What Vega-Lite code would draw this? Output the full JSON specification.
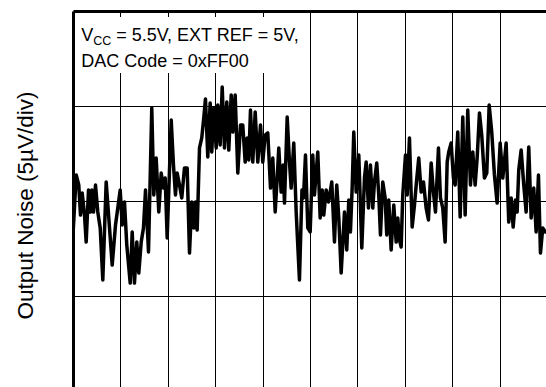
{
  "$schema": "https://vega.github.io/schema/vega-lite/v6.json",
  "width": 473,
  "height": 376,
  "autosize": {"type": "none"},
  "padding": {"left": 73, "top": 11, "right": 0, "bottom": 0},
  "background": "white",
  "config": {"view": {"stroke": null}, "font": "Liberation Sans"},
  "datasets": {
    "noise": [
      {"t":0.0,"v":8.21},{"t":0.068,"v":11.37},{"t":0.122,"v":10.84},{"t":0.158,"v":9.26},{"t":0.194,"v":10.42},{"t":0.243,"v":9.26},{"t":0.278,"v":7.84},{"t":0.327,"v":10.58},{"t":0.363,"v":9.42},{"t":0.397,"v":10.58},{"t":0.432,"v":9.42},{"t":0.475,"v":10.84},{"t":0.523,"v":9.42},{"t":0.574,"v":8.58},{"t":0.629,"v":5.84},{"t":0.700,"v":11.0},{"t":0.755,"v":9.11},{"t":0.827,"v":6.63},{"t":0.897,"v":8.74},{"t":0.945,"v":9.63},{"t":0.996,"v":10.58},{"t":1.038,"v":8.74},{"t":1.086,"v":9.95},{"t":1.135,"v":7.68},{"t":1.207,"v":5.68},{"t":1.249,"v":8.37},{"t":1.297,"v":5.68},{"t":1.346,"v":7.84},{"t":1.388,"v":6.21},{"t":1.439,"v":7.84},{"t":1.487,"v":8.58},{"t":1.530,"v":10.58},{"t":1.593,"v":7.32},{"t":1.662,"v":14.89},{"t":1.705,"v":10.32},{"t":1.755,"v":12.26},{"t":1.810,"v":9.42},{"t":1.861,"v":11.47},{"t":1.909,"v":10.68},{"t":1.945,"v":11.21},{"t":1.987,"v":8.05},{"t":2.072,"v":14.26},{"t":2.120,"v":11.89},{"t":2.162,"v":10.32},{"t":2.198,"v":11.47},{"t":2.247,"v":10.84},{"t":2.295,"v":10.16},{"t":2.352,"v":11.74},{"t":2.409,"v":11.74},{"t":2.458,"v":7.26},{"t":2.506,"v":9.95},{"t":2.549,"v":8.58},{"t":2.584,"v":9.95},{"t":2.620,"v":8.47},{"t":2.669,"v":12.79},{"t":2.717,"v":13.32},{"t":2.759,"v":14.37},{"t":2.795,"v":15.37},{"t":2.844,"v":12.32},{"t":2.894,"v":15.16},{"t":2.928,"v":12.58},{"t":2.970,"v":14.89},{"t":3.021,"v":12.79},{"t":3.055,"v":15.05},{"t":3.105,"v":12.95},{"t":3.148,"v":16.0},{"t":3.196,"v":12.79},{"t":3.245,"v":15.21},{"t":3.287,"v":12.68},{"t":3.338,"v":15.58},{"t":3.371,"v":13.63},{"t":3.422,"v":15.58},{"t":3.477,"v":11.47},{"t":3.534,"v":14.0},{"t":3.582,"v":14.0},{"t":3.633,"v":12.05},{"t":3.675,"v":13.32},{"t":3.709,"v":12.16},{"t":3.745,"v":14.79},{"t":3.793,"v":12.05},{"t":3.844,"v":14.68},{"t":3.899,"v":12.05},{"t":3.956,"v":14.0},{"t":4.004,"v":12.05},{"t":4.055,"v":13.47},{"t":4.110,"v":13.58},{"t":4.167,"v":10.68},{"t":4.215,"v":12.26},{"t":4.266,"v":9.42},{"t":4.308,"v":11.21},{"t":4.342,"v":12.79},{"t":4.392,"v":10.47},{"t":4.435,"v":11.89},{"t":4.462,"v":9.89},{"t":4.519,"v":14.42},{"t":4.568,"v":12.05},{"t":4.603,"v":10.68},{"t":4.658,"v":13.05},{"t":4.709,"v":9.42},{"t":4.778,"v":5.84},{"t":4.831,"v":10.58},{"t":4.863,"v":10.16},{"t":4.905,"v":12.42},{"t":4.954,"v":8.58},{"t":5.004,"v":8.37},{"t":5.059,"v":12.42},{"t":5.095,"v":10.32},{"t":5.165,"v":12.58},{"t":5.215,"v":9.11},{"t":5.257,"v":10.58},{"t":5.291,"v":9.26},{"t":5.342,"v":10.58},{"t":5.390,"v":9.95},{"t":5.426,"v":10.47},{"t":5.460,"v":11.0},{"t":5.517,"v":7.84},{"t":5.565,"v":10.84},{"t":5.608,"v":9.11},{"t":5.658,"v":6.21},{"t":5.728,"v":9.42},{"t":5.776,"v":7.42},{"t":5.819,"v":10.05},{"t":5.854,"v":8.37},{"t":5.890,"v":10.68},{"t":5.924,"v":13.63},{"t":5.975,"v":10.47},{"t":6.030,"v":12.42},{"t":6.093,"v":7.53},{"t":6.150,"v":11.21},{"t":6.186,"v":12.05},{"t":6.234,"v":9.63},{"t":6.276,"v":11.89},{"t":6.325,"v":9.63},{"t":6.361,"v":11.0},{"t":6.409,"v":12.0},{"t":6.451,"v":10.32},{"t":6.487,"v":8.21},{"t":6.536,"v":11.0},{"t":6.586,"v":10.16},{"t":6.620,"v":8.21},{"t":6.662,"v":10.05},{"t":6.713,"v":7.42},{"t":6.768,"v":9.79},{"t":6.819,"v":7.84},{"t":6.852,"v":9.11},{"t":6.888,"v":7.95},{"t":6.924,"v":7.58},{"t":6.958,"v":10.32},{"t":7.015,"v":12.42},{"t":7.051,"v":10.32},{"t":7.099,"v":13.32},{"t":7.156,"v":8.63},{"t":7.205,"v":9.79},{"t":7.247,"v":11.0},{"t":7.295,"v":12.26},{"t":7.346,"v":10.47},{"t":7.395,"v":11.0},{"t":7.451,"v":9.63},{"t":7.500,"v":9.0},{"t":7.557,"v":12.0},{"t":7.605,"v":10.47},{"t":7.648,"v":9.42},{"t":7.711,"v":12.79},{"t":7.753,"v":10.16},{"t":7.802,"v":9.63},{"t":7.852,"v":7.84},{"t":7.895,"v":12.05},{"t":7.928,"v":12.58},{"t":7.979,"v":13.05},{"t":8.027,"v":11.21},{"t":8.063,"v":10.84},{"t":8.118,"v":13.63},{"t":8.169,"v":9.16},{"t":8.224,"v":14.42},{"t":8.274,"v":9.26},{"t":8.329,"v":14.79},{"t":8.386,"v":10.84},{"t":8.435,"v":12.58},{"t":8.485,"v":10.84},{"t":8.527,"v":12.26},{"t":8.576,"v":14.63},{"t":8.624,"v":13.47},{"t":8.681,"v":11.21},{"t":8.730,"v":11.47},{"t":8.781,"v":15.05},{"t":8.835,"v":13.63},{"t":8.892,"v":11.37},{"t":8.949,"v":9.89},{"t":9.013,"v":13.05},{"t":9.068,"v":11.21},{"t":9.139,"v":13.05},{"t":9.194,"v":8.89},{"t":9.245,"v":10.16},{"t":9.287,"v":8.63},{"t":9.335,"v":10.05},{"t":9.371,"v":9.42},{"t":9.405,"v":11.63},{"t":9.456,"v":12.68},{"t":9.511,"v":10.84},{"t":9.561,"v":9.42},{"t":9.616,"v":12.84},{"t":9.667,"v":9.11},{"t":9.721,"v":10.68},{"t":9.772,"v":8.37},{"t":9.821,"v":11.37},{"t":9.863,"v":7.26},{"t":9.911,"v":8.58},{"t":9.968,"v":8.37}
    ]
  },
  "layer": [
    {
      "data": {"name": "noise"},
      "mark": {"type": "line", "color": "black", "strokeWidth": 3.5, "strokeJoin": "round", "strokeCap": "round", "clip": true},
      "encoding": {
        "x": {
          "field": "t", "type": "quantitative",
          "scale": {"domain": [0, 9.98], "nice": false, "zero": false},
          "axis": {"orient": "top", "title": null, "labels": false, "ticks": false, "domain": true, "domainColor": "black", "domainWidth": 3, "grid": true, "gridColor": "black", "gridWidth": 1, "gridOpacity": 1, "values": [1, 2, 3, 4, 5, 6, 7, 8, 9]}
        },
        "y": {
          "field": "v", "type": "quantitative",
          "scale": {"domain": [0.21, 20], "nice": false, "zero": false},
          "axis": {"title": "Output Noise (5µV/div)", "labels": false, "ticks": false, "domain": true, "domainColor": "black", "domainWidth": 3, "grid": true, "gridColor": "black", "gridWidth": 1, "gridOpacity": 1, "values": [5, 10, 15], "titleFontSize": 22.5, "titleFontWeight": "normal", "titleColor": "black", "titleFont": "Liberation Sans", "titlePadding": 36, "titleY": 194}
        }
      }
    },
    {
      "data": {"values": [{}]},
      "mark": {"type": "rect", "fill": "white"},
      "encoding": {
        "x": {"datum": 0.05, "type": "quantitative"},
        "x2": {"datum": 4.78},
        "y": {"datum": 19.68, "type": "quantitative"},
        "y2": {"datum": 16.74}
      }
    },
    {
      "data": {"values": [{}]},
      "mark": {"type": "text", "text": "V", "align": "left", "baseline": "alphabetic", "fontSize": 18, "font": "Liberation Sans", "color": "black"},
      "encoding": {"x": {"datum": 0.173, "type": "quantitative"}, "y": {"datum": 18.42, "type": "quantitative"}}
    },
    {
      "data": {"values": [{}]},
      "mark": {"type": "text", "text": "CC", "align": "left", "baseline": "alphabetic", "fontSize": 12.5, "font": "Liberation Sans", "color": "black"},
      "encoding": {"x": {"datum": 0.426, "type": "quantitative"}, "y": {"datum": 18.21, "type": "quantitative"}}
    },
    {
      "data": {"values": [{}]},
      "mark": {"type": "text", "text": "= 5.5V, EXT REF = 5V,", "align": "left", "baseline": "alphabetic", "fontSize": 18, "font": "Liberation Sans", "color": "black"},
      "encoding": {"x": {"datum": 0.911, "type": "quantitative"}, "y": {"datum": 18.42, "type": "quantitative"}}
    },
    {
      "data": {"values": [{}]},
      "mark": {"type": "text", "text": "DAC Code = 0xFF00", "align": "left", "baseline": "alphabetic", "fontSize": 18, "font": "Liberation Sans", "color": "black"},
      "encoding": {"x": {"datum": 0.173, "type": "quantitative"}, "y": {"datum": 17.05, "type": "quantitative"}}
    }
  ]
}
